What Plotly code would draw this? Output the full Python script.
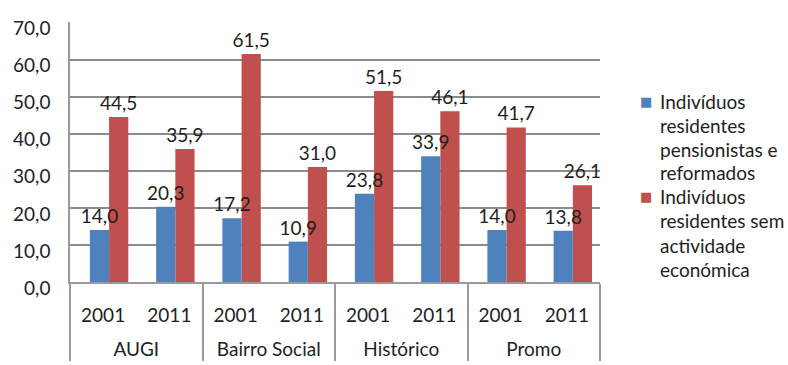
import plotly.graph_objects as go

groups = ["AUGI", "AUGI", "Bairro Social", "Bairro Social",
          "Histórico", "Histórico", "Promo", "Promo"]
years = ["2001", "2011", "2001", "2011", "2001", "2011", "2001", "2011"]
pensionistas = [14.0, 20.3, 17.2, 10.9, 23.8, 33.9, 14.0, 13.8]
sem_actividade = [44.5, 35.9, 61.5, 31.0, 51.5, 46.1, 41.7, 26.1]
series_names = ["Indivíduos residentes pensionistas e reformados",
                "Indivíduos residentes sem actividade económica"]
legend_lines = [["Indivíduos", "residentes", "pensionistas e", "reformados"],
                ["Indivíduos", "residentes sem", "actividade", "económica"]]
y_ticks = [0, 10, 20, 30, 40, 50, 60, 70]

colors = ["#4F81BD", "#C0504D"]
bar_offsets = [-0.2, 0.09]
FONT = "Lato, 'Open Sans', sans-serif"
FS = 19
TXT = "#1e1e1e"
W, H = 788, 365
L, R, T, B = 70, 188, 22, 83
pw, ph = W - L - R, H - T - B

# group labels pushed onto a second line (as in the original's spacing)
group_labels = ["<br>" + g for g in groups]

series = list(zip(series_names, [pensionistas, sem_actividade], colors, bar_offsets))
fig = go.Figure()
# red series first so that the blue labels are drawn on top of the red bars
for name, vals, col, off in reversed(series):
    fig.add_trace(go.Bar(
        x=[group_labels, years], y=vals, name=name,
        width=0.29, offset=off,
        marker=dict(color=col, line=dict(width=0)),
        texttemplate="%{y:.1f}", textposition="outside", constraintext="none",
        textfont=dict(size=FS, color=TXT, family=FONT),
        cliponaxis=False, showlegend=False,
    ))

def px_x(px):
    return (px - L) / pw

def px_y(py):
    return (H - B - py) / ph

line_y = [[101, 125, 149, 172], [196, 220, 245, 269]]
for lines, ys, col in zip(legend_lines, line_y, colors):
    fig.add_annotation(xref="paper", yref="paper", x=px_x(646), y=px_y(ys[0]),
                       text="■", showarrow=False, xanchor="center", yanchor="middle",
                       font=dict(size=13, color=col, family="DejaVu Sans"))
    for t, yy in zip(lines, ys):
        fig.add_annotation(xref="paper", yref="paper", x=px_x(658), y=px_y(yy),
                           text=t, showarrow=False, xanchor="left", yanchor="middle",
                           font=dict(size=FS, color=TXT, family=FONT))

fig.update_layout(
    width=W, height=H,
    margin=dict(l=L, r=R, t=T, b=B, pad=0),
    paper_bgcolor="white", plot_bgcolor="white",
    separators=",.",
    barmode="group",
    font=dict(family=FONT, size=FS, color=TXT),
    showlegend=False,
)
fig.update_yaxes(
    range=[0, 70.15], tickvals=y_ticks, tickformat=".1f",
    showgrid=True, gridcolor="#8c8c8c", gridwidth=1.5,
    showline=True, linecolor="#9a9a9a", linewidth=1.5,
    ticks="", ticklabelstandoff=14, ticklabelshift=6,
    tickfont=dict(size=FS, color=TXT, family=FONT),
    zeroline=False, automargin=False,
)
fig.update_xaxes(
    type="multicategory",
    showline=True, linecolor="#9a9a9a", linewidth=1.5,
    dividercolor="#9a9a9a", dividerwidth=1.5,
    ticks="", ticklabelstandoff=15,
    tickfont=dict(size=FS, color=TXT, family=FONT),
    showgrid=False, automargin=False,
)

fig.write_html("out.html")
